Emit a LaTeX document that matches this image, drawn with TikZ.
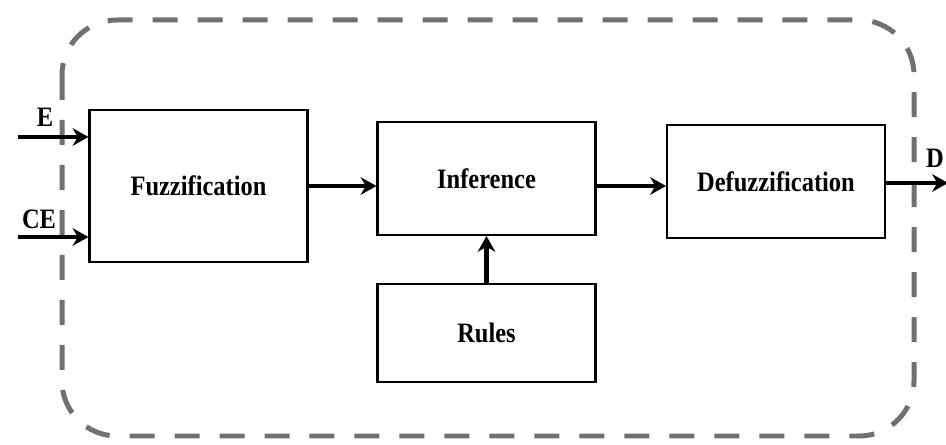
\documentclass[tikz,border=0pt]{standalone}
\usepackage{fontspec}
\setmainfont{Liberation Serif}[FakeStretch=0.87]
\usetikzlibrary{positioning,arrows.meta}
\definecolor{frameGray}{HTML}{707070}
\tikzset{
  block/.style={rectangle, draw, line width=1.2pt, fill=white, minimum width=4.36cm, inner sep=0pt},
%  shadedBlock/.style={rectangle, draw, fill=gray!20},
  signal/.style={line width=2.6pt, -{Stealth[length=9pt,width=10pt]}},
  portLabel/.style={inner sep=0pt},
  frame/.style={draw=frameGray, line width=0.1cm, rounded corners=1.1cm, dash pattern=on 0.5cm off 0.4cm}
}

\begin{document}
\begin{tikzpicture}[x=0.02cm, y=-0.02cm, font={\fontsize{16}{18}\selectfont\bfseries}]
  \useasboundingbox (0,0) rectangle (946,445);
  \draw[frame] (62,20) rectangle (914,436);

  \node [block, minimum height=3.04cm] (fuzz) at (198.5,186) {Fuzzification};
  \node [block, minimum height=2.26cm] (infer) at (486.5,178.5) {Inference};
  \node [block, minimum height=2.26cm] (defuzz) at (776,181.5) {Defuzzification};
  \node [block, minimum height=1.96cm, below=0.94cm of infer] (rules) {Rules};

  \coordinate (eIn) at (18,137);
  \coordinate (ceIn) at (18,237);
  \coordinate (dOut) at (948,183);

  \node [portLabel] (eLabel) at (45,117) {E};
  \node [portLabel] (ceLabel) at (39,219) {CE};
  \node [portLabel] (dLabel) at (935,158) {D};

  \draw [signal] (eIn) -- (eIn -| fuzz.west);
  \draw [signal] (ceIn) -- (ceIn -| fuzz.west);
  \draw [signal] (fuzz.east) -- (fuzz.east -| infer.west);
  \draw [signal] (infer.east |- fuzz.east) -- (fuzz.east -| defuzz.west);
  \draw [signal] (rules.north) -- (infer.south);
  \draw [signal] (defuzz.east |- dOut) -- (dOut);
\end{tikzpicture}
\end{document}
